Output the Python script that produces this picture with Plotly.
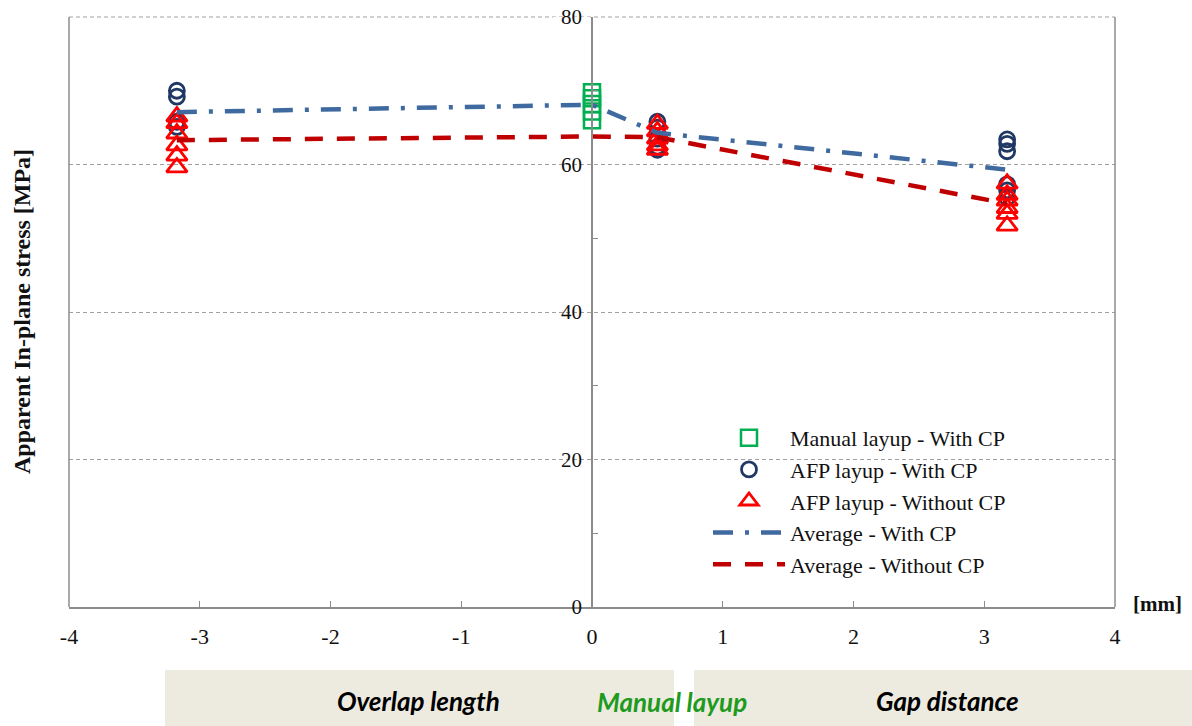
import plotly.graph_objects as go

# ---- data ----
x_overlap = -3.175
x_manual = 0.0
x_gap_small = 0.5
x_gap = 3.175

manual_with_cp = [69.8, 69.0, 68.2, 67.2, 66.0]

afp_with_cp_overlap = [70.0, 69.2, 65.8, 65.1]
afp_with_cp_gap05 = [65.8, 65.0, 63.5, 62.4, 62.0]
afp_with_cp_gap = [63.4, 62.8, 61.8, 57.3, 56.5, 55.5]

afp_without_cp_overlap = [66.5, 65.6, 64.2, 62.6, 61.2, 59.6]
afp_without_cp_gap05 = [65.5, 64.5, 63.5, 62.6, 62.0]
afp_without_cp_gap = [57.4, 55.9, 55.1, 54.1, 53.3, 51.7]

avg_x = [x_overlap, x_manual, x_gap_small, x_gap]
avg_with_cp = [67.1, 68.1, 64.3, 59.3]
avg_without_cp = [63.3, 63.8, 63.7, 54.7]

x_ticks = [-4, -3, -2, -1, 0, 1, 2, 3, 4]
y_ticks = [0, 20, 40, 60, 80]

# ---- layout geometry (screen pixels; page body margin removed) ----
OFF = 0
L, R, T, B = 69, 1115, 17, 607
W, H = R - L, B - T
FIG_W, FIG_H = 1192, 726
def px(xp):
    return (xp - L) / W
def py(yp):
    return (B - yp) / H

SERIF = "Liberation Serif, Times New Roman, serif"

fig = go.Figure()

fig.add_trace(go.Scatter(
    x=[x_manual] * len(manual_with_cp), y=manual_with_cp, mode="markers",
    name="Manual layup - With CP",
    marker=dict(symbol="square-open", size=16, color="#00B050", line=dict(width=2.5)),
))
circ_x = [x_overlap] * len(afp_with_cp_overlap) + [x_gap_small] * len(afp_with_cp_gap05) + [x_gap] * len(afp_with_cp_gap)
circ_y = afp_with_cp_overlap + afp_with_cp_gap05 + afp_with_cp_gap
fig.add_trace(go.Scatter(
    x=circ_x, y=circ_y, mode="markers", name="AFP layup - With CP",
    marker=dict(symbol="circle-open", size=15, color="#1F3864", line=dict(width=2.8)),
))
tri_x = [x_overlap] * len(afp_without_cp_overlap) + [x_gap_small] * len(afp_without_cp_gap05) + [x_gap] * len(afp_without_cp_gap)
tri_y = afp_without_cp_overlap + afp_without_cp_gap05 + afp_without_cp_gap
fig.add_trace(go.Scatter(
    x=tri_x, y=tri_y, mode="markers", name="AFP layup - Without CP",
    marker=dict(symbol="triangle-up-open", size=18, color="#FF0000", line=dict(width=2.8)),
))
fig.add_trace(go.Scatter(
    x=avg_x, y=avg_with_cp, mode="lines", name="Average - With CP",
    line=dict(color="#3F6AA0", width=4.5, dash="20px,12px,4px,12px"),
))
fig.add_trace(go.Scatter(
    x=avg_x, y=avg_without_cp, mode="lines", name="Average - Without CP",
    line=dict(color="#C00000", width=4.5, dash="18px,14px"),
))

shapes = []
# frame (left, right) and dashed top edge
for xx in (0, 1):
    shapes.append(dict(type="line", xref="paper", yref="paper", x0=xx, x1=xx, y0=0, y1=1,
                       line=dict(color="#8C8C8C", width=1.5), layer="above"))
shapes.append(dict(type="line", xref="paper", yref="paper", x0=0, x1=1, y0=1, y1=1,
                   line=dict(color="#A0A0A0", width=1, dash="4px,3px"), layer="between"))
# white gaps in gridlines behind the y tick labels
for v in y_ticks[1:]:
    shapes.append(dict(type="rect", xref="paper", yref="y", x0=px(553), x1=px(590),
                       y0=v - 0.6, y1=v + 0.6, fillcolor="white", line=dict(width=0), layer="between"))
# white area behind the legend
shapes.append(dict(type="rect", xref="paper", yref="paper", x0=px(648), x1=px(1090),
                   y0=py(585), y1=py(420), fillcolor="white", line=dict(width=0), layer="between"))
# bottom category bands
shapes.append(dict(type="rect", xref="paper", yref="paper", x0=px(165), x1=px(674),
                   y0=py(740), y1=py(670), fillcolor="#EDEBE0", line=dict(width=0)))
shapes.append(dict(type="rect", xref="paper", yref="paper", x0=px(694), x1=px(1210),
                   y0=py(740), y1=py(670), fillcolor="#EDEBE0", line=dict(width=0)))

band_font = dict(family="Lato, Carlito, sans-serif", size=26, weight="bold", style="italic")
annotations = [
    dict(text="Apparent In-plane stress [MPa]", xref="paper", yref="paper", x=px(22), y=py(312),
         textangle=-90, showarrow=False, xanchor="center", yanchor="middle",
         font=dict(family=SERIF, size=24, color="#111111", weight="bold")),
    dict(text="[mm]", xref="paper", yref="paper", x=px(1157), y=py(604), showarrow=False,
         xanchor="center", yanchor="middle",
         font=dict(family=SERIF, size=21, color="#111111", weight="bold")),
    dict(text="Overlap length", xref="paper", yref="paper", x=px(418), y=py(701), showarrow=False,
         xanchor="center", yanchor="middle", font=dict(color="#000000", **band_font)),
    dict(text="Manual layup", xref="paper", yref="paper", x=px(672), y=py(702), showarrow=False,
         xanchor="center", yanchor="middle", font=dict(color="#1E9A1E", **band_font)),
    dict(text="Gap distance", xref="paper", yref="paper", x=px(947), y=py(701), showarrow=False,
         xanchor="center", yanchor="middle", font=dict(color="#000000", **band_font)),
]

fig.update_layout(
    width=FIG_W, height=FIG_H,
    margin=dict(l=L - OFF, r=FIG_W - (R - OFF), t=T - OFF, b=FIG_H - (B - OFF), autoexpand=False),
    paper_bgcolor="white", plot_bgcolor="white",
    showlegend=True,
    legend=dict(x=px(708), y=py(417), xanchor="left", yanchor="top",
                bgcolor="rgba(0,0,0,0)", font=dict(family=SERIF, size=22, color="#111111"),
                itemwidth=72, tracegroupgap=0),
    xaxis=dict(range=[-4, 4], tickvals=x_ticks, ticktext=[str(v) for v in x_ticks],
               showgrid=False, zeroline=False, showline=True, linecolor="#8C8C8C", linewidth=1.5,
               ticks="inside", ticklen=6, tickcolor="#8C8C8C", ticklabelstandoff=9,
               ticklabeloverflow="allow",
               tickfont=dict(family=SERIF, size=22, color="#111111")),
    yaxis=dict(range=[0, 80], tickvals=y_ticks, ticktext=[str(v) for v in y_ticks],
               anchor="free", position=0.5, showgrid=True, gridcolor="#A0A0A0", griddash="4px,3px",
               gridwidth=1, zeroline=False, showline=True, linecolor="#8C8C8C", linewidth=1.5,
               ticks="", ticklabelstandoff=5, ticklabeloverflow="allow",
               tickfont=dict(family=SERIF, size=21, color="#111111"),
               minor=dict(tickvals=[10, 30, 50, 70], ticks="inside", ticklen=5, tickcolor="#8C8C8C",
                          showgrid=False)),
    shapes=shapes,
    annotations=annotations,
)

fig.write_html("out.html", config={"displayModeBar": False},
               post_script="document.body.style.margin='0';")
